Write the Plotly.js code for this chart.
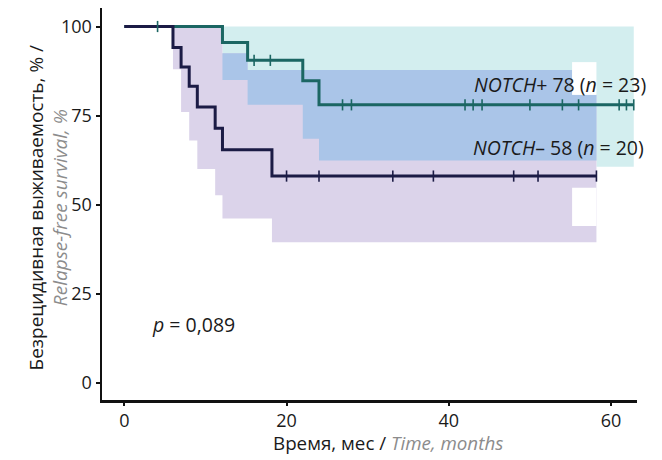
<!DOCTYPE html>
<html>
<head>
<meta charset="utf-8">
<script src="https://cdn.plot.ly/plotly-3.0.1.min.js"></script>
<style>
  html, body { margin: 0; padding: 0; background: #ffffff; }
  #chart { width: 662px; height: 460px; }
</style>
</head>
<body>
<div id="chart"></div>
<script>
// Kaplan–Meier step curves (time in months, survival in %)
const plusTime  = [0, 12.1, 15.2, 22.0, 24.0, 62.8];
const plusSurv  = [100, 95.5, 90.5, 84.8, 78, 78];
const minusTime = [0, 6.0, 7.0, 8.0, 9.0, 11.2, 12.1, 18.2, 58.2];
const minusSurv = [100, 94.1, 88.6, 83.2, 77.4, 71.4, 65.4, 58, 58];

// Censored observations (months)
const plusCensor  = [4.1, 16.0, 18.0, 26.9, 28.0, 42.0, 43.0, 44.1, 50.0, 54.0, 56.0, 61.0, 61.9, 62.8];
const minusCensor = [20.0, 24.0, 33.1, 38.1, 48.0, 51.0, 58.2];

// Confidence bands: interval boundaries and bounds per interval
const plusBandTime  = [12.1, 15.2, 22.0, 24.0, 58.2, 62.8];
const plusBandUpper = [100, 100, 100, 100, 100];
const plusBandLower = [85.0, 78.0, 68.5, 62.4, 60.6];
const minusBandTime  = [6.0, 7.0, 8.0, 9.0, 11.2, 12.1, 15.2, 18.2, 55.2, 58.2];
const minusBandUpper = [100, 100, 100, 100, 100, 92.5, 87.8, 87.8, 80.8];
const minusBandLower = [88.0, 76.0, 68.0, 60.0, 52.6, 46.1, 46.1, 39.4, 39.4];

// Uncovered gaps inside the bands over the last interval
const gapTime  = [55.2, 58.2];
const plusGap  = [80.8, 90.0];
const minusGap = [44.0, 54.7];

// Axis ticks
const xTicks = [0, 20, 40, 60];
const yTicks = [0, 25, 50, 75, 100];

const colPlus = '#1b6663';
const colMinus = '#1b1b45';

// value of a step function (breaks t, values v) at time x
function stepAt(t, v, x) {
  let val = v[0];
  for (let i = 0; i < t.length; i++) { if (t[i] <= x) val = v[i]; }
  return val;
}
// value of a band bound defined per interval
function bandAt(t, v, x) {
  for (let i = 0; i < v.length; i++) { if (x >= t[i] && x < t[i + 1]) return v[i]; }
  return null;
}
// closed polygon around a stepped band
function bandPolygon(t, up, lo) {
  const xs = [], ys = [];
  for (let i = 0; i < up.length; i++) { xs.push(t[i], t[i + 1]); ys.push(up[i], up[i]); }
  for (let i = lo.length - 1; i >= 0; i--) { xs.push(t[i + 1], t[i]); ys.push(lo[i], lo[i]); }
  return { x: xs, y: ys };
}
// shared region of the two bands
function overlapPolygon() {
  const start = Math.max(plusBandTime[0], minusBandTime[0]);
  const end = Math.min(plusBandTime[plusBandTime.length - 1], minusBandTime[minusBandTime.length - 1]);
  const grid = Array.from(new Set(plusBandTime.concat(minusBandTime)))
    .filter(v => v >= start && v <= end).sort((a, b) => a - b);
  const t = [grid[0]], up = [], lo = [];
  for (let i = 0; i < grid.length - 1; i++) {
    const mid = (grid[i] + grid[i + 1]) / 2;
    up.push(Math.min(bandAt(plusBandTime, plusBandUpper, mid), bandAt(minusBandTime, minusBandUpper, mid)));
    lo.push(Math.max(bandAt(plusBandTime, plusBandLower, mid), bandAt(minusBandTime, minusBandLower, mid)));
    t.push(grid[i + 1]);
  }
  return bandPolygon(t, up, lo);
}

const pPlus = bandPolygon(plusBandTime, plusBandUpper, plusBandLower);
const pMinus = bandPolygon(minusBandTime, minusBandUpper, minusBandLower);
const pBoth = overlapPolygon();
const pGapPlus = bandPolygon(gapTime, [plusGap[1]], [plusGap[0]]);
const pGapMinus = bandPolygon(gapTime, [minusGap[1]], [minusGap[0]]);

const fillTrace = (p, color) => ({
  x: p.x, y: p.y, type: 'scatter', mode: 'lines', fill: 'toself',
  fillcolor: color, line: { width: 0 }, hoverinfo: 'skip', showlegend: false
});

const censorTrace = (times, t, v, color) => ({
  x: times, y: times.map(c => stepAt(t, v, c)), type: 'scatter', mode: 'markers',
  marker: { symbol: 'line-ns', size: 8, color: color, line: { color: color, width: 1.6 } },
  showlegend: false
});

const traces = [
  fillTrace(pPlus, '#d3eeef'),
  fillTrace(pMinus, '#dbd3ea'),
  fillTrace(pBoth, '#aac5e8'),
  fillTrace(pGapPlus, '#ffffff'),
  fillTrace(pGapMinus, '#ffffff'),
  { x: plusTime, y: plusSurv, type: 'scatter', mode: 'lines',
    line: { shape: 'hv', color: colPlus, width: 3 }, showlegend: false },
  { x: minusTime, y: minusSurv, type: 'scatter', mode: 'lines',
    line: { shape: 'hv', color: colMinus, width: 3 }, showlegend: false },
  censorTrace(plusCensor, plusTime, plusSurv, colPlus),
  censorTrace(minusCensor, minusTime, minusSurv, colMinus)
];

const font = 'Open Sans, Noto Sans, sans-serif';
const grey = '#8c8c8c';
const ink = '#1a1a1a';

const layout = {
  width: 662, height: 460,
  margin: { l: 102, r: 25, t: 8, b: 60 },
  paper_bgcolor: '#ffffff', plot_bgcolor: '#ffffff',
  font: { family: font, size: 18, color: ink },
  xaxis: {
    range: [-2.75, 63.2], tickvals: xTicks, ticktext: xTicks.map(String),
    showgrid: false, zeroline: false, showline: true, linecolor: '#111111', linewidth: 2.5,
    ticks: 'outside', ticklen: 3, tickwidth: 2, tickcolor: '#111111',
    tickfont: { family: font, size: 18, color: ink }
  },
  yaxis: {
    range: [-4.9, 105.2], tickvals: yTicks, ticktext: yTicks.map(String),
    showgrid: false, zeroline: false, showline: true, linecolor: '#111111', linewidth: 2.5,
    ticks: 'outside', ticklen: 4, tickwidth: 2, tickcolor: '#111111',
    tickfont: { family: font, size: 18, color: ink }
  },
  annotations: [
    { xref: 'paper', yref: 'paper', x: 1.02, y: 0.806, xanchor: 'right', yanchor: 'middle', showarrow: false,
      text: '<i>NOTCH</i>+ 78 (<i>n</i> = 23)', font: { family: font, size: 19.5, color: ink } },
    { xref: 'paper', yref: 'paper', x: 1.016, y: 0.643, xanchor: 'right', yanchor: 'middle', showarrow: false,
      text: '<i>NOTCH</i>– 58 (<i>n</i> = 20)', font: { family: font, size: 19.5, color: ink } },
    { xref: 'x', yref: 'y', x: 3.2, y: 16.4, xanchor: 'left', yanchor: 'middle', showarrow: false,
      text: '<i>p</i> = 0,089', font: { family: font, size: 19.5, color: ink } },
    { xref: 'paper', yref: 'paper', x: 0.535, y: -0.11, xanchor: 'center', yanchor: 'middle', showarrow: false,
      text: 'Время, мес / <span style="color:' + grey + '"><i>Time, months</i></span>',
      font: { family: font, size: 18.8, color: ink } },
    { xref: 'paper', yref: 'paper', x: -0.1, y: 0.49, xanchor: 'center', yanchor: 'middle', showarrow: false,
      textangle: -90,
      text: 'Безрецидивная выживаемость, % /<br><span style="color:' + grey + '"><i>Relapse-free survival, %</i></span>',
      font: { family: font, size: 19, color: ink } }
  ]
};

Plotly.newPlot('chart', traces, layout, { staticPlot: true, displayModeBar: false });
</script>
</body>
</html>
